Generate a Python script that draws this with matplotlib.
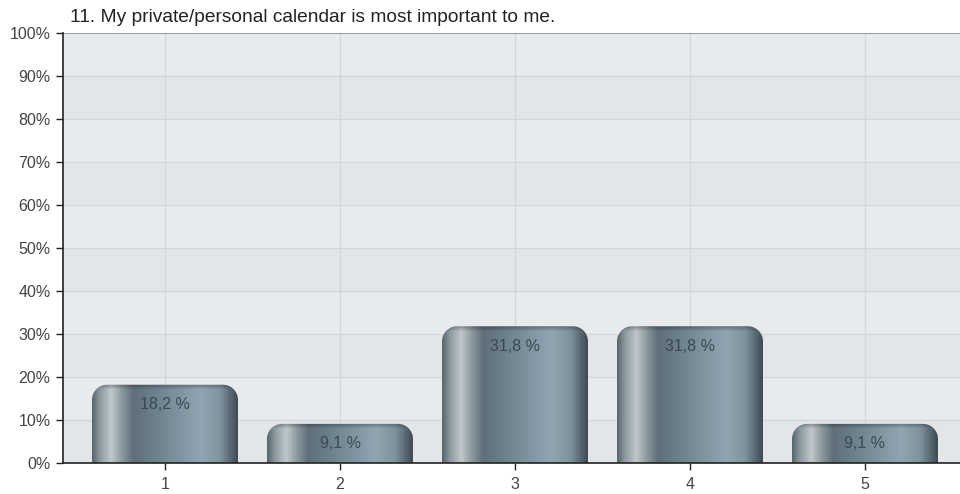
import numpy as np
import matplotlib
matplotlib.use("Agg")
import matplotlib.pyplot as plt
from matplotlib.path import Path
from matplotlib.patches import PathPatch
from matplotlib.colors import to_rgb

title = "11. My private/personal calendar is most important to me."
categories = ["1", "2", "3", "4", "5"]
values = [18.2, 9.1, 31.8, 31.8, 9.1]
value_labels = ["18,2 %", "9,1 %", "31,8 %", "31,8 %", "9,1 %"]
y_ticks = [0, 10, 20, 30, 40, 50, 60, 70, 80, 90, 100]

fig = plt.figure(figsize=(9.6, 4.94), dpi=100)
ax = fig.add_axes([63 / 960, 1 - 463 / 494, 1 - 63 / 960, (463 - 33) / 494])

xlim = (1 - 102 / 175, 5 + 95 / 175)
ylim = (0, 100)
ax.set_xlim(*xlim)
ax.set_ylim(*ylim)

# alternating horizontal bands
ax.set_facecolor("#e8ebee")
for i, lo in enumerate(range(0, 100, 10)):
    if i % 2 == 0:
        ax.axhspan(lo, lo + 10, color="#e3e6e9", zorder=0, lw=0)
for t in y_ticks[1:-1]:
    ax.axhline(t, color="#d3d7db", lw=1.0, zorder=0.5)
xpos = np.arange(1, len(categories) + 1)
for x in xpos:
    ax.axvline(x, color="#d3d7db", lw=1.0, zorder=0.5)
ax.axhline(100, color="#8a8a8a", lw=1.2, zorder=1)

# horizontal colour profile of the cylindrical bars
stops = [
    (0.00, "#56656d"),
    (0.05, "#8a989e"),
    (0.13, "#bfc8cc"),
    (0.20, "#8e9ba1"),
    (0.28, "#5f6f79"),
    (0.45, "#6e838e"),
    (0.75, "#91a6b2"),
    (0.88, "#7f939e"),
    (0.95, "#5a6a74"),
    (1.00, "#3e4a52"),
]
ncol = 200
u = np.linspace(0, 1, ncol)
pos = [s[0] for s in stops]
cols = np.array([to_rgb(s[1]) for s in stops])
profile = np.stack([np.interp(u, pos, cols[:, k]) for k in range(3)], axis=-1)

px_per_x = 175.0
px_per_y = 4.3
rad_px = 15.0
rx = rad_px / px_per_x
ry = rad_px / px_per_y
width = 0.834


def bar_path(x0, x1, h):
    r_y = min(ry, h * 0.9)
    k = 0.5523
    verts = [
        (x0, 0), (x0, h - r_y),
        (x0, h - r_y + k * r_y), (x0 + rx - k * rx, h), (x0 + rx, h),
        (x1 - rx, h),
        (x1 - rx + k * rx, h), (x1, h - r_y + k * r_y), (x1, h - r_y),
        (x1, 0), (x0, 0),
    ]
    codes = [Path.MOVETO, Path.LINETO,
             Path.CURVE4, Path.CURVE4, Path.CURVE4,
             Path.LINETO,
             Path.CURVE4, Path.CURVE4, Path.CURVE4,
             Path.LINETO, Path.CLOSEPOLY]
    return Path(verts, codes)


for x, v, lab in zip(xpos, values, value_labels):
    x0, x1 = x - width / 2, x + width / 2
    nrow = max(int(v * px_per_y), 2)
    img = np.repeat(profile[None, :, :], nrow, axis=0)
    # darker rim along the top
    rim = 5
    shade = np.ones(nrow)
    shade[:rim] = np.linspace(0.72, 0.95, rim)
    img = img * shade[:, None, None]
    patch = PathPatch(bar_path(x0, x1, v), facecolor="none", edgecolor="none")
    ax.add_patch(patch)
    im = ax.imshow(img, extent=(x0, x1, 0, v), aspect="auto", origin="upper",
                   zorder=2, interpolation="bilinear")
    im.set_clip_path(patch)
    ax.text(x, v - 20 / px_per_y, lab, ha="center", va="center",
            fontsize=11.5, color="#3b4852", zorder=3,
            family="Liberation Sans")

ax.set_xlim(*xlim)
ax.set_ylim(*ylim)

ax.set_xticks(xpos)
ax.set_xticklabels(categories)
ax.set_yticks(y_ticks)
ax.set_yticklabels([f"{t}%" for t in y_ticks])
for lbl in ax.get_xticklabels() + ax.get_yticklabels():
    lbl.set_family("Liberation Sans")
    lbl.set_fontsize(11.5)
    lbl.set_color("#444444")
ax.tick_params(axis="y", length=5, width=1, color="#222222", pad=4)
ax.tick_params(axis="x", length=5, width=1, color="#222222", pad=5)

for side in ("top", "right"):
    ax.spines[side].set_visible(False)
ax.spines["left"].set_color("#222222")
ax.spines["bottom"].set_color("#222222")
ax.spines["left"].set_linewidth(1.2)
ax.spines["bottom"].set_linewidth(1.2)

fig.text(70 / 960, 1 - 17 / 494, title, ha="left", va="center",
         fontsize=13.8, color="#222222", family="Liberation Sans")

fig.savefig("out.png", dpi=100, facecolor="white")
